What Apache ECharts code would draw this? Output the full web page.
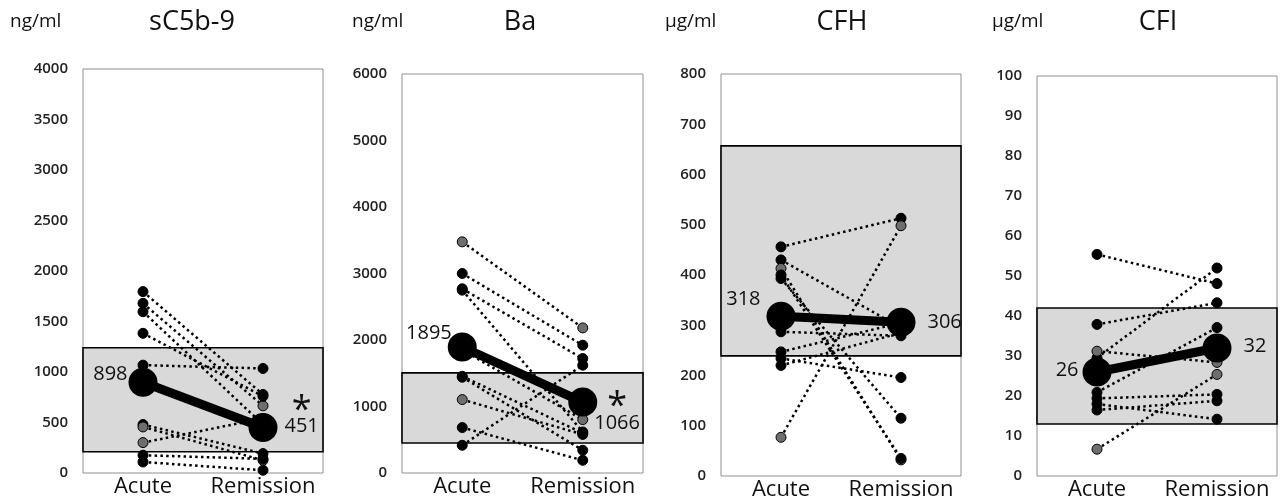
<!DOCTYPE html>
<html>
<head>
<meta charset="utf-8">
<script src="https://cdn.jsdelivr.net/npm/echarts@6/dist/echarts.min.js"></script>
<style>html,body{margin:0;padding:0;background:#fff;}#c{width:1283px;height:501px;}</style>
</head>
<body>
<div id="c"></div>
<script>
const categories = ['Acute', 'Remission'];

// sC5b-9 (ng/ml)
const sc5b9Acute     = [1796, 1680, 1597, 1383, 1068, 480, 456, 301, 176, 109];
const sc5b9Remission = [777, 665, 480, 760, 1035, 192, 126, 540, 140, 27];
const sc5b9AcuteGray = [0, 0, 0, 0, 0, 0, 1, 1, 0, 0];
const sc5b9RemGray   = [0, 1, 0, 0, 0, 0, 1, 0, 0, 0];
const sc5b9Mean = [898, 451];
const sc5b9Band = [210, 1240];

// Ba (ng/ml)
const baAcute     = [3476, 3000, 2770, 2750, 1850, 1455, 1440, 1104, 683, 417];
const baRemission = [2182, 1922, 1721, 617, 803, 600, 342, 580, 191, 1621];
const baAcuteGray = [1, 0, 0, 0, 0, 0, 0, 1, 0, 0];
const baRemGray   = [1, 0, 0, 0, 1, 0, 0, 0, 0, 0];
const baMean = [1895, 1066];
const baBand = [452, 1505];

// CFH (µg/ml)
const cfhAcute     = [456, 430, 413, 400, 393, 287, 247, 234, 220, 77];
const cfhRemission = [513, 295, 32, 35, 115, 279, 305, 196, 285, 498];
const cfhAcuteGray = [0, 0, 1, 0, 0, 0, 0, 0, 0, 1];
const cfhRemGray   = [0, 0, 1, 0, 0, 0, 0, 0, 0, 1];
const cfhMean = [318, 306];
const cfhBand = [239, 657];

// CFI (µg/ml)
const cfiAcute     = [55.4, 29.5, 37.9, 31.2, 20.9, 19.4, 18.0, 16.5, 6.7];
const cfiRemission = [48.1, 52.0, 43.3, 28.4, 37.1, 20.4, 14.2, 18.8, 25.4];
const cfiAcuteGray = [0, 0, 0, 1, 0, 0, 0, 0, 1];
const cfiRemGray   = [0, 0, 0, 1, 0, 0, 0, 0, 1];
const cfiMean = [26, 32];
const cfiBand = [13, 42];

const panelTitles = ['sC5b-9', 'Ba', 'CFH', 'CFI'];
const panelUnits = ['ng/ml', 'ng/ml', 'µg/ml', 'µg/ml'];
const yMax = [4000, 6000, 800, 100];
const yInterval = [500, 1000, 100, 10];
const significance = ['*', '*', '', ''];

const panels = [
  {a: sc5b9Acute, r: sc5b9Remission, ag: sc5b9AcuteGray, rg: sc5b9RemGray, mean: sc5b9Mean, band: sc5b9Band},
  {a: baAcute, r: baRemission, ag: baAcuteGray, rg: baRemGray, mean: baMean, band: baBand},
  {a: cfhAcute, r: cfhRemission, ag: cfhAcuteGray, rg: cfhRemGray, mean: cfhMean, band: cfhBand},
  {a: cfiAcute, r: cfiRemission, ag: cfiAcuteGray, rg: cfiRemGray, mean: cfiMean, band: cfiBand}
];

// layout
const FONT = 'Open Sans';
const gridPos = [
  {left: 83, top: 69, width: 240, height: 404},
  {left: 402, top: 74, width: 241, height: 399},
  {left: 721, top: 74, width: 240, height: 402},
  {left: 1037, top: 76, width: 240, height: 401}
];
const unitLeft = [10, 352, 665, 992];
const titleCenter = [192, 520, 842, 1158];
// mean label placement: [acute: distance, offsetY], [remission: distance, offsetY]
const meanLabelCfg = [
  [[1, -8], [7, -13]],
  [[-4, -14], [-3, 9]],
  [[6, -17], [12, 0]],
  [[4, -2], [12, -2]]
];

const GRAY = '#6e6e6e';
const series = [];
panels.forEach((p, k) => {
  // reference band
  series.push({
    type: 'line', xAxisIndex: k, yAxisIndex: k, data: [], z: 1, silent: true,
    markArea: {
      silent: true,
      itemStyle: {color: '#d9d9d9', borderColor: '#000', borderWidth: 1.6},
      data: [[{yAxis: p.band[0]}, {yAxis: p.band[1]}]]
    }
  });
  // individual patients
  p.a.forEach((av, i) => {
    series.push({
      type: 'line', xAxisIndex: k, yAxisIndex: k, z: 3, silent: true,
      symbol: 'circle', symbolSize: 10,
      lineStyle: {color: '#000', width: 2.5, type: [2.5, 3.3]},
      itemStyle: {borderColor: '#000', borderWidth: 1},
      data: [
        {value: av, itemStyle: {color: p.ag[i] ? GRAY : '#000'}},
        {value: p.r[i], itemStyle: {color: p.rg[i] ? GRAY : '#000'}}
      ]
    });
  });
  // mean
  const cfg = meanLabelCfg[k];
  const sig = significance[k];
  series.push({
    type: 'line', xAxisIndex: k, yAxisIndex: k, z: 6, silent: true,
    symbol: 'circle', symbolSize: 29,
    lineStyle: {color: '#000', width: 9},
    itemStyle: {color: '#000'},
    data: [
      {value: p.mean[0], label: {show: true, position: 'left', distance: cfg[0][0], offset: [0, cfg[0][1]],
        formatter: String(p.mean[0]), fontSize: 20, color: '#111', fontFamily: FONT}},
      {value: p.mean[1], label: {show: true, position: 'right', distance: cfg[1][0], offset: [0, cfg[1][1]],
        formatter: sig ? '{s|' + sig + '}\n{n|' + p.mean[1] + '}' : String(p.mean[1]),
        fontSize: 20, color: '#111', fontFamily: FONT,
        rich: {
          s: {fontSize: 36, lineHeight: 24, align: 'center', color: '#111', fontFamily: FONT, padding: [16, 0, 0, 0]},
          n: {fontSize: 20, lineHeight: 24, align: 'center', color: '#111', fontFamily: FONT}
        }}}
    ]
  });
});

const option = {
  animation: false,
  backgroundColor: '#fff',
  title: panelTitles.map((t, k) => ({
    text: t, left: titleCenter[k], top: 9, textAlign: 'center', padding: 0,
    textStyle: {fontSize: 27, fontWeight: 'normal', color: '#111', fontFamily: FONT}
  })).concat(panelUnits.map((u, k) => ({
    text: u, left: unitLeft[k], top: 12, padding: 0,
    textStyle: {fontSize: 19, fontWeight: 'normal', color: '#111', fontFamily: FONT}
  }))),
  grid: gridPos.map(g => Object.assign({show: true, borderColor: '#909090', borderWidth: 1, backgroundColor: 'transparent'}, g)),
  xAxis: gridPos.map((g, k) => ({
    type: 'category', gridIndex: k, data: categories, boundaryGap: true,
    axisLine: {show: false}, axisTick: {show: false},
    axisLabel: {fontSize: 22, color: '#111', fontFamily: FONT, margin: 3, interval: 0}
  })),
  yAxis: gridPos.map((g, k) => ({
    type: 'value', gridIndex: k, min: 0, max: yMax[k], interval: yInterval[k],
    axisLine: {show: false}, axisTick: {show: false}, splitLine: {show: false},
    axisLabel: {fontSize: 15, fontWeight: 600, color: '#222', fontFamily: FONT, margin: 15,
      formatter: v => String(v)}
  })),
  series: series
};

const chart = echarts.init(document.getElementById('c'), null, {renderer: 'canvas'});
chart.setOption(option);
</script>
</body>
</html>
